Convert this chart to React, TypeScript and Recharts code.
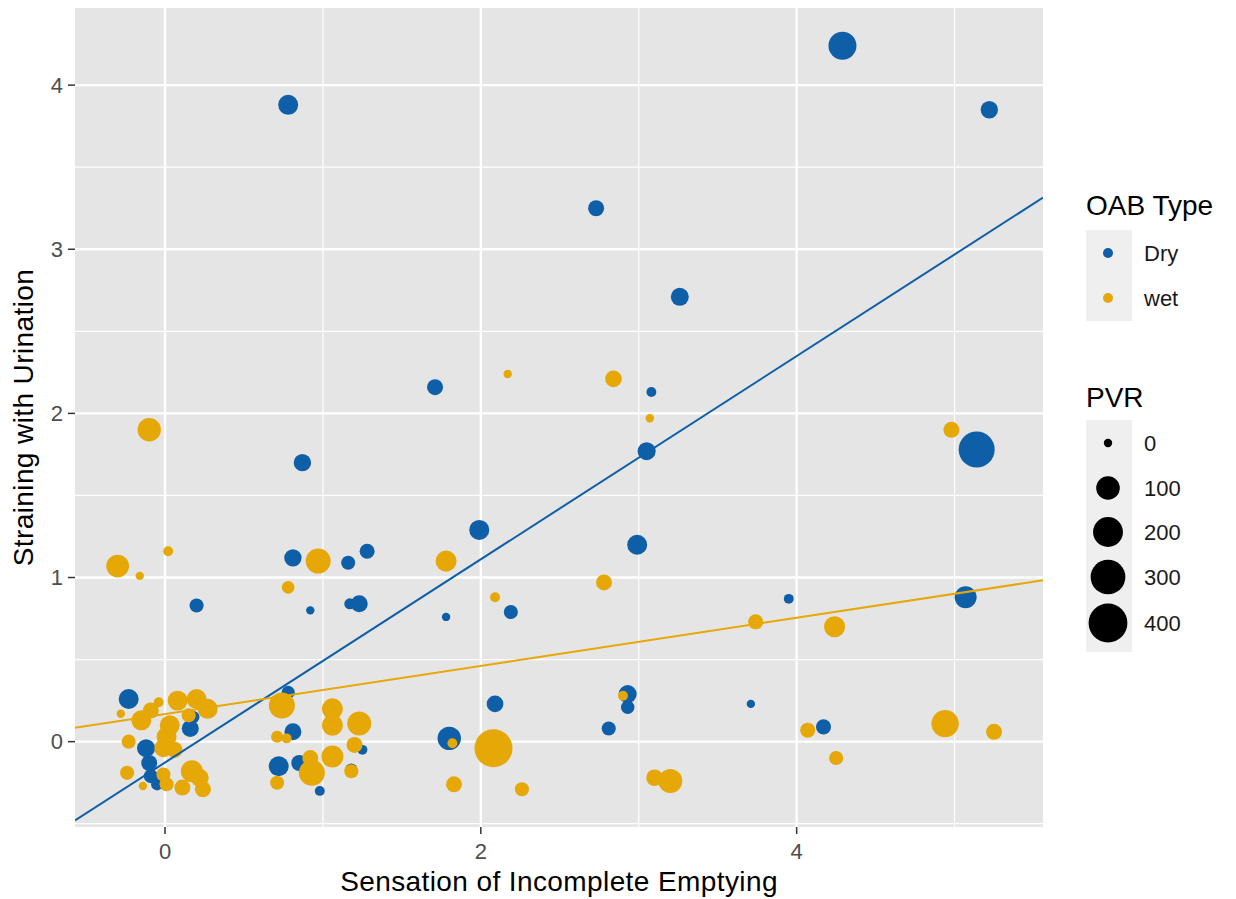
import React from 'react';
import { ScatterChart, Scatter, XAxis, YAxis, CartesianGrid } from 'recharts';

// Sensation of Incomplete Emptying (x) vs Straining with Urination (y), sized by PVR
const dryPoints = [
  { x: 4.29, y: 4.24, pvr: 166 }, { x: 0.78, y: 3.88, pvr: 58 }, { x: 5.22, y: 3.85, pvr: 35 },
  { x: 2.73, y: 3.25, pvr: 25 }, { x: 3.26, y: 2.71, pvr: 40 }, { x: 1.71, y: 2.16, pvr: 25 },
  { x: 3.08, y: 2.13, pvr: 1 }, { x: 3.05, y: 1.77, pvr: 40 }, { x: 5.14, y: 1.78, pvr: 330 },
  { x: 0.87, y: 1.7, pvr: 35 }, { x: 1.99, y: 1.29, pvr: 58 }, { x: 2.99, y: 1.2, pvr: 58 },
  { x: 0.81, y: 1.12, pvr: 35 }, { x: 1.16, y: 1.09, pvr: 14 }, { x: 1.28, y: 1.16, pvr: 19 },
  { x: 0.2, y: 0.83, pvr: 14 }, { x: 0.92, y: 0.8, pvr: 0 }, { x: 1.17, y: 0.84, pvr: 3 },
  { x: 1.23, y: 0.84, pvr: 32 }, { x: 1.78, y: 0.76, pvr: 0 }, { x: 2.19, y: 0.79, pvr: 14 },
  { x: 3.95, y: 0.87, pvr: 1 }, { x: 5.07, y: 0.88, pvr: 80 }, { x: 3.71, y: 0.23, pvr: 0 },
  { x: 4.17, y: 0.09, pvr: 19 }, { x: 2.93, y: 0.29, pvr: 40 }, { x: 2.93, y: 0.21, pvr: 11 },
  { x: 2.81, y: 0.08, pvr: 14 }, { x: 2.09, y: 0.23, pvr: 30 }, { x: 1.8, y: 0.02, pvr: 97 },
  { x: 0.98, y: -0.3, pvr: 1 }, { x: -0.23, y: 0.26, pvr: 58 }, { x: -0.12, y: -0.04, pvr: 40 },
  { x: -0.1, y: -0.13, pvr: 25 }, { x: -0.09, y: -0.21, pvr: 14 }, { x: 0.16, y: 0.08, pvr: 32 },
  { x: 0.18, y: 0.15, pvr: 6 }, { x: -0.05, y: -0.26, pvr: 6 }, { x: 0.81, y: 0.06, pvr: 32 },
  { x: 0.72, y: -0.15, pvr: 58 }, { x: 0.85, y: -0.13, pvr: 25 }, { x: 1.25, y: -0.05, pvr: 1 },
  { x: 1.18, y: -0.17, pvr: 6 }, { x: 0.78, y: 0.3, pvr: 10 },
];

const wetPoints = [
  { x: -0.1, y: 1.9, pvr: 97 }, { x: -0.3, y: 1.07, pvr: 90 }, { x: 0.02, y: 1.16, pvr: 1 },
  { x: -0.16, y: 1.01, pvr: 0 }, { x: 0.97, y: 1.1, pvr: 119 }, { x: 0.78, y: 0.94, pvr: 8 },
  { x: 1.78, y: 1.1, pvr: 69 }, { x: 2.09, y: 0.88, pvr: 1 }, { x: 2.17, y: 2.24, pvr: 0 },
  { x: 2.84, y: 2.21, pvr: 30 }, { x: 3.07, y: 1.97, pvr: 0 }, { x: 4.98, y: 1.9, pvr: 25 },
  { x: 2.78, y: 0.97, pvr: 25 }, { x: 3.74, y: 0.73, pvr: 19 }, { x: 4.24, y: 0.7, pvr: 69 },
  { x: 4.07, y: 0.07, pvr: 19 }, { x: 4.25, y: -0.1, pvr: 14 }, { x: 4.94, y: 0.11, pvr: 156 },
  { x: 5.25, y: 0.06, pvr: 25 }, { x: 2.08, y: -0.04, pvr: 379 }, { x: 1.82, y: -0.01, pvr: 1 },
  { x: 1.83, y: -0.26, pvr: 25 }, { x: 2.26, y: -0.29, pvr: 14 }, { x: 2.9, y: 0.28, pvr: 1 },
  { x: 3.1, y: -0.22, pvr: 30 }, { x: 3.2, y: -0.24, pvr: 105 },
  { x: -0.28, y: 0.17, pvr: 0 }, { x: -0.04, y: 0.24, pvr: 1 }, { x: 0.08, y: 0.25, pvr: 58 },
  { x: 0.2, y: 0.26, pvr: 58 }, { x: 0.27, y: 0.2, pvr: 58 }, { x: 0.15, y: 0.16, pvr: 14 },
  { x: -0.15, y: 0.13, pvr: 58 }, { x: -0.09, y: 0.19, pvr: 25 }, { x: 0.03, y: 0.1, pvr: 58 },
  { x: 0.01, y: 0.03, pvr: 58 }, { x: -0.01, y: -0.04, pvr: 40 }, { x: 0.06, y: -0.05, pvr: 25 },
  { x: -0.23, y: 0.0, pvr: 14 }, { x: -0.24, y: -0.19, pvr: 14 }, { x: -0.14, y: -0.27, pvr: 0 },
  { x: -0.01, y: -0.2, pvr: 14 }, { x: 0.01, y: -0.26, pvr: 14 }, { x: 0.11, y: -0.28, pvr: 25 },
  { x: 0.17, y: -0.18, pvr: 80 }, { x: 0.22, y: -0.22, pvr: 40 }, { x: 0.24, y: -0.29, pvr: 25 },
  { x: 0.74, y: 0.22, pvr: 134 }, { x: 0.71, y: 0.03, pvr: 6 }, { x: 0.77, y: 0.02, pvr: 1 },
  { x: 1.06, y: 0.2, pvr: 69 }, { x: 1.06, y: 0.1, pvr: 69 }, { x: 1.23, y: 0.11, pvr: 105 },
  { x: 1.2, y: -0.02, pvr: 25 }, { x: 0.93, y: -0.19, pvr: 134 }, { x: 0.92, y: -0.1, pvr: 25 },
  { x: 1.06, y: -0.09, pvr: 80 }, { x: 1.18, y: -0.18, pvr: 14 }, { x: 0.71, y: -0.25, pvr: 14 },
];

// fitted lines, ends at the panel edges
const dryFit = [{ x: -0.57, y: -0.48 }, { x: 5.56, y: 3.315 }];
const wetFit = [{ x: -0.57, y: 0.085 }, { x: 5.56, y: 0.983 }];

const xTicks = [0, 2, 4];
const yTicks = [0, 1, 2, 3, 4];
const xMinor = [1, 3, 5];
const yMinor = [-0.5, 0.5, 1.5, 2.5, 3.5];
const pvrBreaks = [0, 100, 200, 300, 400];
const oabTypes = ['Dry', 'wet'];

const BLUE = '#0E5FA8';
const ORANGE = '#E6A807';
const FONT = '"Liberation Sans", Arial, Helvetica, sans-serif';

const radius = (pvr: number) => 4.2 + 0.76 * Math.sqrt(pvr);

const dot = (color: string) => (props: any) => {
  const { cx, cy, payload } = props;
  return <circle cx={cx} cy={cy} r={radius(payload.pvr)} fill={color} />;
};

const noDot = () => <g />;

const XTitle = (props: any) => {
  const vb = props.viewBox;
  return (
    <text x={vb.x + vb.width / 2} y={vb.y + 64} textAnchor="middle" fontSize={28} letterSpacing={0.4} fontFamily={FONT} fill="#000">
      Sensation of Incomplete Emptying
    </text>
  );
};

const YTitle = (props: any) => {
  const vb = props.viewBox;
  const cx = vb.x + 33;
  const cy = vb.y + vb.height / 2;
  return (
    <text x={cx} y={cy} transform={`rotate(-90 ${cx} ${cy})`} textAnchor="middle" fontSize={28} letterSpacing={0.4} fontFamily={FONT} fill="#000">
      Straining with Urination
    </text>
  );
};

const LegendPanel = () => {
  const colors = [BLUE, ORANGE];
  const pvrY = [443, 488, 532, 577, 623];
  return (
    <svg width={1236} height={899} style={{ position: 'absolute', left: 0, top: 0, pointerEvents: 'none' }}>
      <text x={1086} y={215} fontSize={28} fontFamily={FONT} fill="#000">OAB Type</text>
      <rect x={1086} y={230} width={46} height={91} fill="#EFEFEF" />
      {oabTypes.map((t, i) => (
        <g key={t}>
          <circle cx={1108} cy={253 + i * 45} r={5} fill={colors[i]} />
          <text x={1144} y={253 + i * 45} dominantBaseline="central" fontSize={22} fontFamily={FONT} fill="#1A1A1A">{t}</text>
        </g>
      ))}
      <text x={1086} y={407} fontSize={28} fontFamily={FONT} fill="#000">PVR</text>
      <rect x={1086} y={420} width={46} height={232} fill="#EFEFEF" />
      {pvrBreaks.map((b, i) => (
        <g key={b}>
          <circle cx={1108} cy={pvrY[i]} r={radius(b)} fill="#000" />
          <text x={1144} y={pvrY[i]} dominantBaseline="central" fontSize={22} fontFamily={FONT} fill="#1A1A1A">{b}</text>
        </g>
      ))}
    </svg>
  );
};

export default function App() {
  return (
    <div style={{ position: 'absolute', left: 0, top: 0, width: 1236, height: 899, background: '#fff' }}>
      <ScatterChart width={1236} height={899} margin={{ top: 8, right: 193, bottom: 32, left: 0 }}>
        <CartesianGrid
          fill="#E5E5E5"
          stroke="#FFFFFF"
          strokeWidth={1.2}
          horizontalValues={yMinor}
          verticalValues={xMinor}
        />
        <CartesianGrid
          stroke="#FFFFFF"
          strokeWidth={2.4}
          horizontalValues={yTicks}
          verticalValues={xTicks}
        />
        <XAxis
          type="number"
          dataKey="x"
          domain={[-0.57, 5.56]}
          ticks={xTicks}
          allowDataOverflow
          height={40}
          axisLine={false}
          tickSize={7}
          tickMargin={9}
          tickLine={{ stroke: '#333', strokeWidth: 1.5 }}
          tick={{ fill: '#4D4D4D', fontSize: 22, fontFamily: FONT }}
          label={{ content: XTitle }}
        />
        <YAxis
          type="number"
          dataKey="y"
          domain={[-0.52, 4.47]}
          ticks={yTicks}
          allowDataOverflow
          width={75}
          axisLine={false}
          tickSize={7}
          tickMargin={5}
          tickLine={{ stroke: '#333', strokeWidth: 1.5 }}
          tick={{ fill: '#4D4D4D', fontSize: 22, fontFamily: FONT }}
          label={{ content: YTitle }}
        />
        <Scatter name="Dry" data={dryPoints} shape={dot(BLUE)} isAnimationActive={false} />
        <Scatter name="wet" data={wetPoints} shape={dot(ORANGE)} isAnimationActive={false} />
        <Scatter data={dryFit} line={{ stroke: BLUE, strokeWidth: 2 }} shape={noDot} isAnimationActive={false} />
        <Scatter data={wetFit} line={{ stroke: ORANGE, strokeWidth: 2 }} shape={noDot} isAnimationActive={false} />
      </ScatterChart>
      <LegendPanel />
    </div>
  );
}
